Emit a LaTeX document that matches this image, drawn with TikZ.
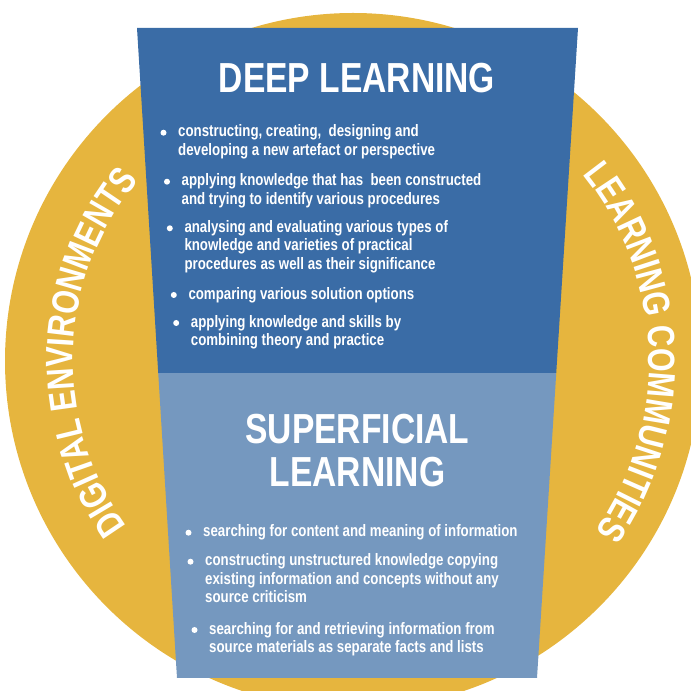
\documentclass[tikz,border=0pt]{standalone}
\usepackage{fontspec}
\newfontfamily\condfont{Liberation Sans}[FakeStretch=0.8]
\usepackage{tikz}
\usetikzlibrary{calc, decorations.text}

\definecolor{ringgold}{RGB}{230,181,62}
\definecolor{deepblue}{RGB}{58,108,166}
\definecolor{flatblue}{RGB}{117,152,191}

\begin{document}
\begin{tikzpicture}[x=1pt, y=1pt,
                title/.style={text=white, font=\condfont\bfseries\fontsize{42}{43}\selectfont, align=center, inner sep=0pt, anchor=base},
                item/.style={text=white, font=\condfont\bfseries\fontsize{16.6}{18.4}\selectfont, align=left, anchor=base west, inner sep=0pt},
                dot/.style={circle, fill=white, inner sep=0pt, minimum size=6pt},
                ringtext/.style={decorate, decoration={text along path, text align=center, text color=white,
                    text={|\condfont\bfseries\fontsize{38}{38}\selectfont|#1}}}]

                \useasboundingbox (0,0) rectangle (691,691);
                \clip (0,0) rectangle (691,691);

                % Ring
                \coordinate (ctr) at (353,330);
                \fill[ringgold] (ctr) circle[radius=348];

                % Ring labels
                \path[ringtext=DIGI{TA}L ENVIRONMENTS] ($(ctr)+(228:280)$) arc[start angle=228, end angle=128, radius=280];
                \path[ringtext=LEARNING COMMUNITIES] ($(ctr)+(52:296)$) arc[start angle=52, end angle=-48, radius=296];

                % Funnel corners
                \coordinate (tl) at (137,663);
                \coordinate (tr) at (578,663);
                \coordinate (br) at (537,13);
                \coordinate (bl) at (177,13);
                \coordinate (ml) at ($(tl)!0.531!(bl)$);
                \coordinate (mr) at ($(tr)!0.531!(br)$);

                % Funnel parts
                \fill[deepblue] (tl) -- (tr) -- (mr) -- (ml) -- cycle;
                \fill[flatblue] (ml) -- (mr) -- (br) -- (bl) -- cycle;

                % Deep learning (nodes sit on their last baseline)
                \node[title] (deep) at (357,598) {DEEP LEARNING};

                \node[item] (d1) at (178,535.6) {constructing, creating,\ \ designing and\\developing a new artefact or perspective};
                \node[item] (d2) at (181.5,486.6) {applying knowledge that has\ \ been constructed\\and trying to identify various procedures};
                \node[item] (d3) at (184.3,421.6) {analysing and evaluating various types of\\knowledge and varieties of practical\\procedures as well as their significance};
                \node[item] (d4) at (188.3,391.7) {comparing various solution options};
                \node[item] (d5) at (190.7,345.3) {applying knowledge and skills by\\combining theory and practice};

                % Superficial learning
                \node[title] (flat) at (357.5,204) {SUPERFICIAL\\LEARNING};

                \node[item] (s1) at (203,154) {searching for content and meaning of information};
                \node[item] (s2) at (205,88.2) {constructing unstructured knowledge copying\\existing information and concepts without any\\source criticism};
                \node[item] (s3) at (209,38.3) {searching for and retrieving information from\\source materials as separate facts and lists};

                % Bullets, level with first lines
                \node[dot] (d1dot) at (163.5,558.3) {};
                \node[dot] (d2dot) at (167,509.3) {};
                \node[dot] (d3dot) at (169.8,462.7) {};
                \node[dot] (d4dot) at (173.8,396) {};
                \node[dot] (d5dot) at (176.2,368) {};
                \node[dot] (s1dot) at (188.5,158.3) {};
                \node[dot] (s2dot) at (190.5,129.3) {};
                \node[dot] (s3dot) at (194.5,61) {};
            \end{tikzpicture}
\end{document}
